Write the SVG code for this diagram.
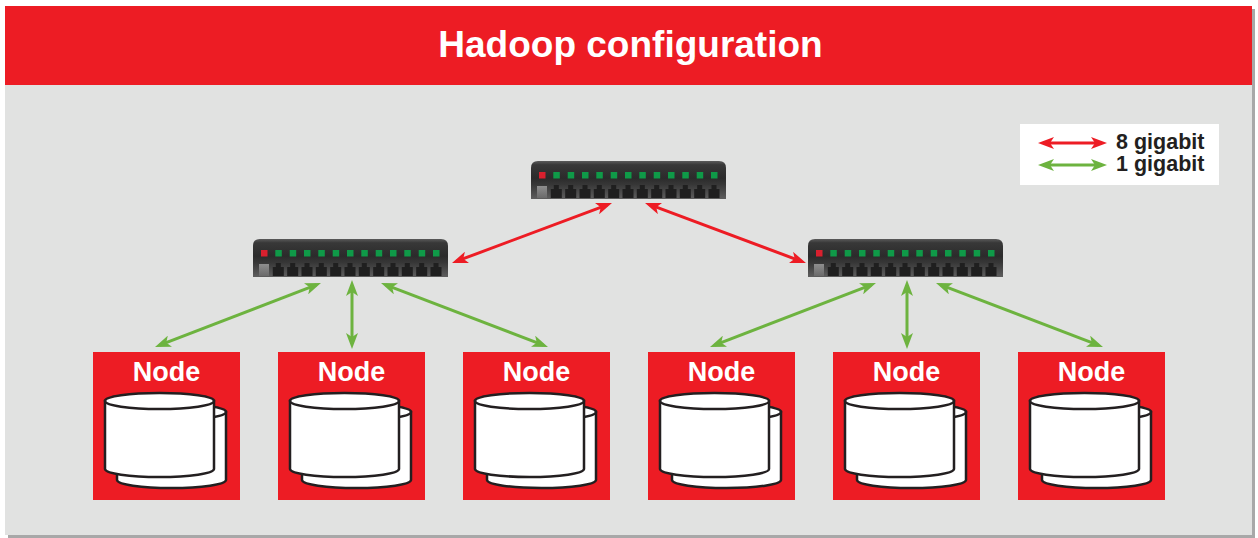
<svg xmlns="http://www.w3.org/2000/svg" xmlns:xlink="http://www.w3.org/1999/xlink" width="1258" height="538" viewBox="0 0 1258 538">
<style>
.title{font-family:"Liberation Sans",Arial,sans-serif;font-weight:bold;font-size:37px;fill:#fff;text-anchor:middle}
.nodelbl{font-family:"Liberation Sans",Arial,sans-serif;font-weight:bold;font-size:27px;fill:#fff;text-anchor:middle}
.leg{font-family:"Liberation Sans",Arial,sans-serif;font-weight:bold;font-size:21.5px;fill:#231f20}
.nodebox{fill:#ed1c24}
.cyl{fill:#fff;stroke:#231f20;stroke-width:2.5}
.red{stroke:#ed1c24;stroke-width:3;fill:none;marker-start:url(#ahR);marker-end:url(#ahR)}
.green{stroke:#6db33f;stroke-width:3;fill:none;marker-start:url(#ahG);marker-end:url(#ahG)}
.ledG{fill:#0f9a48}
.ledR{fill:#d9202e}
.jack{fill:#1f1f1f}
</style>
<defs>
<linearGradient id="swBody" x1="0" y1="0" x2="0" y2="1">
<stop offset="0" stop-color="#5a5a5a"/>
<stop offset="0.1" stop-color="#383838"/>
<stop offset="0.45" stop-color="#2b2b2b"/>
<stop offset="0.62" stop-color="#373737"/>
<stop offset="1" stop-color="#5e5e5e"/>
</linearGradient>
<linearGradient id="swGray" x1="0" y1="0" x2="0" y2="1">
<stop offset="0" stop-color="#8e8e8e"/>
<stop offset="1" stop-color="#6a6a6a"/>
</linearGradient>
<marker id="ahR" viewBox="0 0 16 12" markerWidth="16" markerHeight="12" refX="11" refY="6" orient="auto-start-reverse" markerUnits="userSpaceOnUse">
<path d="M0,0 L16,6 L0,12 L4,6 Z" fill="#ed1c24"/>
</marker>
<marker id="ahG" viewBox="0 0 16 12" markerWidth="16" markerHeight="12" refX="11" refY="6" orient="auto-start-reverse" markerUnits="userSpaceOnUse">
<path d="M0,0 L16,6 L0,12 L4,6 Z" fill="#6db33f"/>
</marker>
<g id="switch">
<path d="M0,38 V7 Q0,0 7,0 H188 Q195,0 195,7 V38 Z" fill="url(#swBody)"/>
<rect class="ledR" x="8" y="11" width="6.5" height="6.5"/>
<rect class="ledG" x="22.3" y="11" width="6.5" height="6.5"/>
<rect class="ledG" x="36.7" y="11" width="6.5" height="6.5"/>
<rect class="ledG" x="51" y="11" width="6.5" height="6.5"/>
<rect class="ledG" x="65.3" y="11" width="6.5" height="6.5"/>
<rect class="ledG" x="79.7" y="11" width="6.5" height="6.5"/>
<rect class="ledG" x="94" y="11" width="6.5" height="6.5"/>
<rect class="ledG" x="108.3" y="11" width="6.5" height="6.5"/>
<rect class="ledG" x="122.7" y="11" width="6.5" height="6.5"/>
<rect class="ledG" x="137" y="11" width="6.5" height="6.5"/>
<rect class="ledG" x="151.3" y="11" width="6.5" height="6.5"/>
<rect class="ledG" x="165.7" y="11" width="6.5" height="6.5"/>
<rect class="ledG" x="180" y="11" width="6.5" height="6.5"/>
<rect x="6" y="25" width="10" height="12" fill="url(#swGray)"/>
<path class="jack" d="M19.8,37 V28 H22.8 V24 H27.8 V28 H30.8 V37 Z"/>
<path class="jack" d="M34.2,37 V28 H37.2 V24 H42.2 V28 H45.2 V37 Z"/>
<path class="jack" d="M48.5,37 V28 H51.5 V24 H56.5 V28 H59.5 V37 Z"/>
<path class="jack" d="M62.8,37 V28 H65.8 V24 H70.8 V28 H73.8 V37 Z"/>
<path class="jack" d="M77.2,37 V28 H80.2 V24 H85.2 V28 H88.2 V37 Z"/>
<path class="jack" d="M91.5,37 V28 H94.5 V24 H99.5 V28 H102.5 V37 Z"/>
<path class="jack" d="M105.8,37 V28 H108.8 V24 H113.8 V28 H116.8 V37 Z"/>
<path class="jack" d="M120.2,37 V28 H123.2 V24 H128.2 V28 H131.2 V37 Z"/>
<path class="jack" d="M134.5,37 V28 H137.5 V24 H142.5 V28 H145.5 V37 Z"/>
<path class="jack" d="M148.8,37 V28 H151.8 V24 H156.8 V28 H159.8 V37 Z"/>
<path class="jack" d="M163.2,37 V28 H166.2 V24 H171.2 V28 H174.2 V37 Z"/>
<path class="jack" d="M177.5,37 V28 H180.5 V24 H185.5 V28 H188.5 V37 Z"/>
</g>
<g id="disks">
<path class="cyl" d="M24,60 V128 A54.5,8 0 0 0 133,128 V60 Z"/>
<ellipse class="cyl" cx="78.5" cy="60" rx="54.5" ry="8"/>
<path class="cyl" d="M12,49 V117 A54.5,8 0 0 0 121,117 V49 Z"/>
<ellipse class="cyl" cx="66.5" cy="49" rx="54.5" ry="8"/>
</g>
</defs>

<g id="frame">
<rect x="8" y="9" width="1247" height="529" fill="#a8a8a8"/>
<rect x="5" y="6" width="1247" height="529" fill="#e1e2e1"/>
<rect x="5" y="6" width="1247" height="79" fill="#ed1c24"/>
<text class="title" x="630.5" y="57">Hadoop configuration</text>
</g>

<g id="legend">
<rect x="1020" y="124" width="199" height="61" fill="#fff"/>
<line class="red" x1="1043" y1="143" x2="1102" y2="143"/>
<line class="green" x1="1043" y1="165" x2="1102" y2="165"/>
<text class="leg" x="1116" y="149">8 gigabit</text>
<text class="leg" x="1116" y="171">1 gigabit</text>
</g>

<g id="connectors">
<line class="red" x1="456.7" y1="261.2" x2="607.3" y2="204.8"/>
<line class="red" x1="649.7" y1="204.7" x2="801.3" y2="261.3"/>
<line class="green" x1="316.3" y1="284.8" x2="159.7" y2="345.2"/>
<line class="green" x1="352" y1="285" x2="352" y2="344"/>
<line class="green" x1="385.7" y1="284.8" x2="543.3" y2="345.2"/>
<line class="green" x1="871.3" y1="284.8" x2="714.7" y2="345.2"/>
<line class="green" x1="907" y1="285" x2="907" y2="344"/>
<line class="green" x1="940.7" y1="284.8" x2="1098.3" y2="345.2"/>
</g>

<g id="switch-core"><use xlink:href="#switch" href="#switch" x="531" y="161"/></g>
<g id="switch-left"><use xlink:href="#switch" href="#switch" x="253" y="239"/></g>
<g id="switch-right"><use xlink:href="#switch" href="#switch" x="808" y="239"/></g>

<g id="node1" transform="translate(93,352)">
<rect class="nodebox" width="147" height="148"/>
<text class="nodelbl" x="73.5" y="29">Node</text>
<use xlink:href="#disks" href="#disks"/>
</g>
<g id="node2" transform="translate(278,352)">
<rect class="nodebox" width="147" height="148"/>
<text class="nodelbl" x="73.5" y="29">Node</text>
<use xlink:href="#disks" href="#disks"/>
</g>
<g id="node3" transform="translate(463,352)">
<rect class="nodebox" width="147" height="148"/>
<text class="nodelbl" x="73.5" y="29">Node</text>
<use xlink:href="#disks" href="#disks"/>
</g>
<g id="node4" transform="translate(648,352)">
<rect class="nodebox" width="147" height="148"/>
<text class="nodelbl" x="73.5" y="29">Node</text>
<use xlink:href="#disks" href="#disks"/>
</g>
<g id="node5" transform="translate(833,352)">
<rect class="nodebox" width="147" height="148"/>
<text class="nodelbl" x="73.5" y="29">Node</text>
<use xlink:href="#disks" href="#disks"/>
</g>
<g id="node6" transform="translate(1018,352)">
<rect class="nodebox" width="147" height="148"/>
<text class="nodelbl" x="73.5" y="29">Node</text>
<use xlink:href="#disks" href="#disks"/>
</g>
</svg>
